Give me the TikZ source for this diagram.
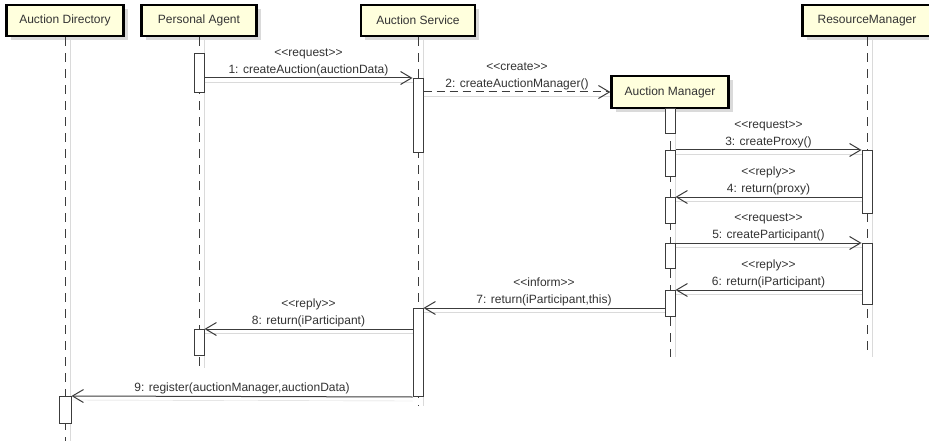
\documentclass[tikz,border=0pt]{standalone}
\usepackage{fontspec}
\setmainfont{Liberation Sans}[Ligatures=TeXOff]
\usetikzlibrary{arrows.meta,shadows}
\definecolor{hdrfill}{RGB}{255,255,221}
\definecolor{lncol}{RGB}{60,60,60}
\definecolor{shcol}{RGB}{218,218,218}
\begin{document}
\begin{tikzpicture}[x=1pt,y=-1pt,
 hdr/.style={draw=black, line width=2.2pt, fill=hdrfill, minimum height=31pt, inner sep=0pt,
   font=\fontsize{12}{14}\selectfont, text=black!80,
   drop shadow={shadow xshift=4pt, shadow yshift=-4pt, fill=shcol, opacity=1}},
 life/.style={draw=lncol, line width=1pt, dash pattern=on 9pt off 7pt,
   preaction={draw=shcol, solid, transform canvas={xshift=5pt}}},
 bar/.style={draw=lncol, fill=white, line width=1pt, minimum width=10pt, inner sep=0pt, anchor=north},
 msg/.style={draw=lncol, line width=1pt, -{Straight Barb[length=11pt,width=13pt,line width=1pt]},
   preaction={-, draw=shcol, transform canvas={yshift=-4pt}}},
 lbl/.style={midway, above=2pt, align=center, font=\fontsize{12}{17}\selectfont, text=black!80, inner sep=0pt}
]
\useasboundingbox (0,0) rectangle (929,441);
\fill[white] (0,0) rectangle (929,441);

% headers
\node[hdr, minimum width=117pt] (ad) at (65,20.5) {Auction Directory};
\node[hdr, minimum width=115pt] (pa) at (199,20.5) {Personal Agent};
\node[hdr, minimum width=114pt] (as) at (418,20.5) {Auction Service};
\node[hdr, minimum width=129pt] (rm) at (867,20.5) {ResourceManager};
\node[hdr, minimum width=117pt, minimum height=32pt] (am) at (670,92) {Auction Manager};

% lifeline ends
\coordinate (adE) at (65,441);
\coordinate (paE) at (199,368);
\coordinate (asE) at (418,406);
\coordinate (amE) at (670,357);
\coordinate (rmE) at (867,357);

\draw[life] (ad.south) -- (adE);
\draw[life] (pa.south) -- (paE);
\draw[life] (as.south) -- (asE);
\draw[life] (am.south) -- (amE);
\draw[life] (rm.south) -- (rmE);

% activation bars
\node[bar, minimum height=39pt] (pa1) at (199,53) {};
\node[bar, minimum height=26pt] (pa2) at (199,329) {};
\node[bar, minimum height=74pt] (as1) at (418,78) {};
\node[bar, minimum height=88pt] (as2) at (418,308) {};
\node[bar, minimum height=25pt] (am1) at (670,108) {};
\node[bar, minimum height=26pt] (am2) at (670,150) {};
\node[bar, minimum height=26pt] (am3) at (670,197) {};
\node[bar, minimum height=25pt] (am4) at (670,243) {};
\node[bar, minimum height=26pt] (am5) at (670,290) {};
\node[bar, minimum height=63pt] (rm1) at (867,150) {};
\node[bar, minimum height=61pt] (rm2) at (867,243) {};
\node[bar, minimum height=27pt, minimum width=12pt] (ad1) at (65,396) {};

% messages
\draw[msg] (pa1.east |- as1.north) -- (as1.north west)
  node[lbl] {<<request>>\\1: createAuction(auctionData)};
\draw[msg, dash pattern=on 8pt off 5pt] (as1.east |- am.west) -- (am.west)
  node[lbl] {<<create>>\\2: createAuctionManager()};
\draw[msg] (am2.north east) -- (rm1.north west)
  node[lbl] {<<request>>\\3: createProxy()};
\draw[msg] (rm1.west |- am3.north) -- (am3.north east)
  node[lbl] {<<reply>>\\4: return(proxy)};
\draw[msg] (am4.north east) -- (rm2.north west)
  node[lbl] {<<request>>\\5: createParticipant()};
\draw[msg] (rm2.west |- am5.north) -- (am5.north east)
  node[lbl] {<<reply>>\\6: return(iParticipant)};
\draw[msg] (am5.west |- as2.north) -- (as2.north east)
  node[lbl] {<<inform>>\\7: return(iParticipant,this)};
\draw[msg] (as2.west |- pa2.north) -- (pa2.north east)
  node[lbl] {<<reply>>\\8: return(iParticipant)};
\draw[msg] (as2.south west) -- (ad1.north east)
  node[lbl] {9: register(auctionManager,auctionData)};
\end{tikzpicture}
\end{document}
